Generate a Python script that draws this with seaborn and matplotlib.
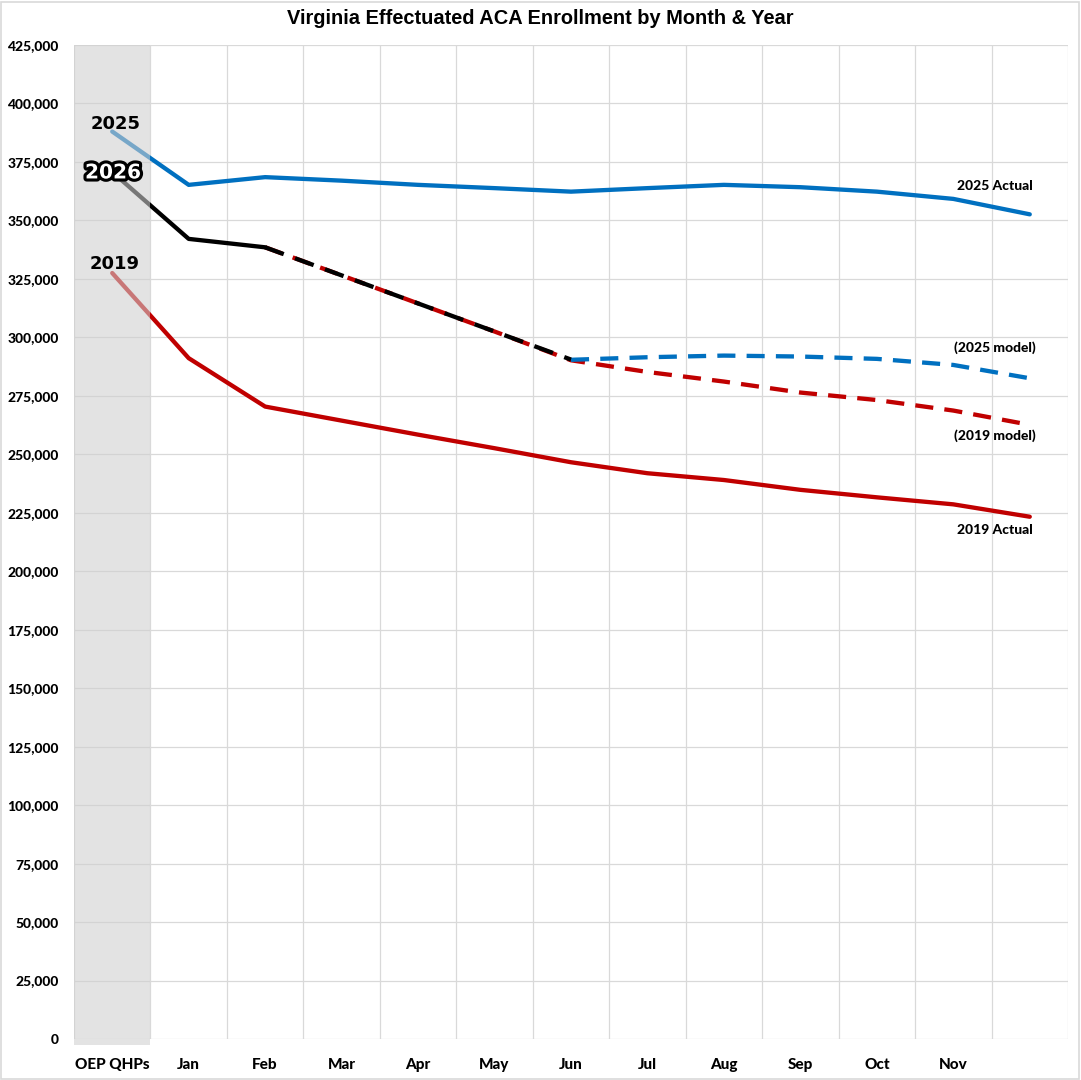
import matplotlib
matplotlib.use("Agg")
import matplotlib.pyplot as plt
import matplotlib.patheffects as pe
from matplotlib.patches import Rectangle
from matplotlib.ticker import FuncFormatter, MultipleLocator
import seaborn as sns
import pandas as pd

# Categories (last one is December, left unlabeled on the axis)
months = ["OEP QHPs", "Jan", "Feb", "Mar", "Apr", "May", "Jun",
          "Jul", "Aug", "Sep", "Oct", "Nov", "Dec"]
tick_labels = months[:-1] + [""]

# Series values
actual_2025 = [388000, 365200, 368500, 367000, 365200, 363800, 362300,
               363800, 365200, 364200, 362300, 359200, 352600]
actual_2019 = [327500, 291100, 270400, 264400, 258400, 252600, 246600,
               241900, 239000, 234800, 231600, 228600, 223300]
actual_2026 = [370700, 342100, 338500]
proj_2026_months = ["Feb", "Mar", "Apr", "May", "Jun"]
proj_2026 = [338500, 326500, 314500, 302500, 290500]
model_2019_months = ["Feb", "Mar", "Apr", "May", "Jun", "Jul", "Aug",
                     "Sep", "Oct", "Nov", "Dec"]
model_2019 = [338500, 326500, 314500, 302500, 290200, 285200, 281100,
              276400, 273200, 268700, 262600]
model_2025_months = ["Jun", "Jul", "Aug", "Sep", "Oct", "Nov", "Dec"]
model_2025 = [290400, 291500, 292200, 291800, 290800, 288200, 282500]

BLUE = "#0070C0"
RED = "#C00000"


def frame(month_list, values):
    return pd.DataFrame({"pos": [months.index(m) for m in month_list],
                         "value": values})


sns.set_theme(style="white")
plt.rcParams["font.family"] = ["Lato", "DejaVu Sans"]
plt.rcParams["text.color"] = "black"

fig = plt.figure(figsize=(10.81, 10.80), dpi=100)
ax = fig.add_axes([74 / 1081, 1 - 1039 / 1080, (1068 - 74) / 1081, (1039 - 45) / 1080])

lw = 3.1
sns.lineplot(data=frame(months, actual_2025), x="pos", y="value", ax=ax,
             color=BLUE, lw=lw, zorder=2)
sns.lineplot(data=frame(months, actual_2019), x="pos", y="value", ax=ax,
             color=RED, lw=lw, zorder=2)
sns.lineplot(data=frame(model_2019_months, model_2019), x="pos", y="value", ax=ax,
             color=RED, lw=lw, zorder=2).lines[-1].set_dashes([4.2, 2.6])
sns.lineplot(data=frame(model_2025_months, model_2025), x="pos", y="value", ax=ax,
             color=BLUE, lw=lw, zorder=2).lines[-1].set_dashes([4.2, 2.6])
sns.lineplot(data=frame(proj_2026_months, proj_2026), x="pos", y="value", ax=ax,
             color="black", lw=lw, zorder=2.2).lines[-1].set_dashes([4.6, 2.8])
sns.lineplot(data=frame(months[:3], actual_2026), x="pos", y="value", ax=ax,
             color="black", lw=lw, zorder=2.3)

# translucent band over the open-enrollment column
ax.add_patch(Rectangle((-0.5, -2500), 1, 427500, facecolor="#cfcfcf", alpha=0.58,
                       lw=0, zorder=3, clip_on=False))

ax.set_xlim(-0.5, 12.5)
ax.set_ylim(0, 425000)
ax.yaxis.set_major_locator(MultipleLocator(25000))
ax.yaxis.set_major_formatter(FuncFormatter(lambda v, p: f"{int(v):,}"))
ax.set_xticks(range(len(months)))
ax.set_xticklabels(tick_labels)
ax.set_xticks([i - 0.5 for i in range(len(months) + 1)], minor=True)
ax.tick_params(axis="both", which="both", length=0)
ax.tick_params(axis="x", pad=14)
ax.tick_params(axis="y", pad=11)
for lab in ax.get_xticklabels():
    lab.set_fontweight("black")
    lab.set_fontsize(11)
    lab.set_color("black")
for lab in ax.get_yticklabels():
    lab.set_fontweight("black")
    lab.set_fontsize(10)
    lab.set_color("black")
ax.grid(axis="y", which="major", color="#d9d9d9", lw=0.9)
ax.grid(axis="x", which="minor", color="#d9d9d9", lw=0.9)
ax.grid(axis="x", which="major", visible=False)
ax.set_axisbelow(True)
for s in ax.spines.values():
    s.set_visible(False)
ax.set_xlabel("")
ax.set_ylabel("")

# year labels at the start of each line
lab_font = dict(fontsize=13, fontweight="bold", ha="center", va="center",
                family="DejaVu Sans", zorder=5)
ax.text(0.05, 391300, "2025", color="black", **lab_font)
ax.text(0.01, 370300, "2026", color="white",
        path_effects=[pe.withStroke(linewidth=4.5, foreground="black")],
        **{**lab_font, "fontsize": 14.5})
ax.text(0.03, 331400, "2019", color="black", **lab_font)

# series labels on the right
end_font = dict(fontsize=10, fontweight="black", ha="center", va="center",
                color="black", zorder=5)
ax.text(11.545, 364700, "2025 Actual", **end_font)
ax.text(11.545, 295500, "(2025 model)", **end_font)
ax.text(11.545, 257800, "(2019 model)", **end_font)
ax.text(11.545, 217600, "2019 Actual", **end_font)

fig.text(0.5, 1 - 19 / 1080, "Virginia Effectuated ACA Enrollment by Month & Year",
         ha="center", va="center", fontsize=14.4, fontweight="bold",
         family="Liberation Sans", color="black")

fig.patches.append(Rectangle((0.001, 0.001), 0.997, 0.997, transform=fig.transFigure,
                             fill=False, edgecolor="#d9d9d9", lw=1.2))

fig.savefig("out.png", dpi=100)
